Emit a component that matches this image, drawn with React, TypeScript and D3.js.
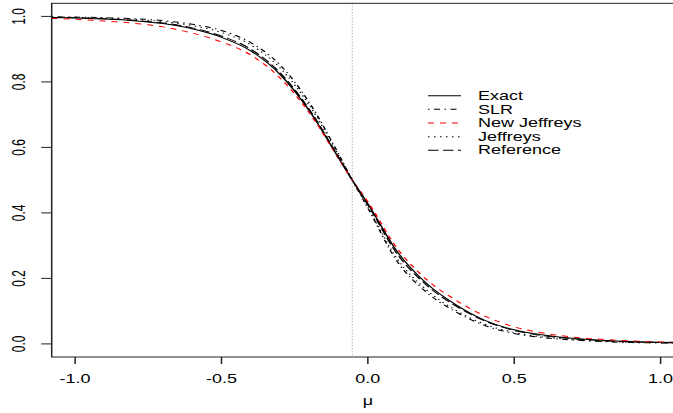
import React from "react";
import * as d3 from "d3";

// values
const mu = [-1.08, -1.0, -0.9, -0.8, -0.7, -0.6, -0.5, -0.4, -0.3, -0.2, -0.1, -0.053, 0, 0.1, 0.2, 0.3, 0.4, 0.5, 0.6, 0.7, 0.8, 0.9, 1.0, 1.08];
const exact = [0.997, 0.995, 0.992, 0.987, 0.978, 0.962, 0.936, 0.895, 0.823, 0.712, 0.568, 0.5, 0.428, 0.282, 0.185, 0.12, 0.072, 0.043, 0.027, 0.017, 0.011, 0.007, 0.005, 0.004];
const slr = [0.999, 0.998, 0.996, 0.993, 0.987, 0.976, 0.957, 0.92, 0.852, 0.737, 0.58, 0.5, 0.415, 0.252, 0.158, 0.098, 0.056, 0.032, 0.019, 0.012, 0.007, 0.004, 0.003, 0.002];
const newJeffreys = [0.994, 0.991, 0.986, 0.979, 0.968, 0.949, 0.922, 0.882, 0.812, 0.706, 0.566, 0.5, 0.434, 0.292, 0.197, 0.134, 0.085, 0.052, 0.033, 0.021, 0.014, 0.009, 0.006, 0.005];
const jeffreys = [0.998, 0.997, 0.995, 0.991, 0.984, 0.972, 0.951, 0.913, 0.843, 0.729, 0.576, 0.5, 0.418, 0.26, 0.165, 0.103, 0.06, 0.035, 0.021, 0.013, 0.008, 0.005, 0.003, 0.002];
const reference = [0.997, 0.996, 0.993, 0.988, 0.98, 0.965, 0.94, 0.9, 0.828, 0.716, 0.57, 0.5, 0.425, 0.275, 0.18, 0.116, 0.07, 0.041, 0.025, 0.016, 0.01, 0.006, 0.004, 0.003];
const vline = -0.053;

const xTicks = [-1.0, -0.5, 0.0, 0.5, 1.0];
const yTicks = [0, 0.2, 0.4, 0.6, 0.8, 1.0];

const series = [
  { name: "Exact", values: exact, color: "#000", dash: null },
  { name: "SLR", values: slr, color: "#000", dash: "1,3,4,3" },
  { name: "New Jeffreys", values: newJeffreys, color: "#ff0000", dash: "4,4" },
  { name: "Jeffreys", values: jeffreys, color: "#000", dash: "1,3" },
  { name: "Reference", values: reference, color: "#000", dash: "7,3" },
];

// the original picture is stretched 1.5x horizontally, so draw in narrow coords
const SX = 1.5;
const left = 51.7 / SX;
const right = 684 / SX;
const top = 3.3;
const bottom = 357;

const fmt = (t: number) => t.toFixed(1); // plain hyphen minus like R

const App = () => {
  const x = d3.scaleLinear().domain([-1.08, 1.08]).range([left, right]);
  const y = d3.scaleLinear().domain([-0.04, 1.04]).range([bottom, top]);

  const line = d3
    .line<number>()
    .x((d, i) => x(mu[i]))
    .y((d) => y(d))
    .curve(d3.curveMonotoneX);

  const font = "'Liberation Sans', Arial, Helvetica, sans-serif";

  return (
    <svg width={673} height={413} style={{ position: "absolute", left: 0, top: 0, background: "#fff" }}>
      <defs>
        <clipPath id="plot">
          <rect x={left} y={top} width={right - left} height={bottom - top} />
        </clipPath>
      </defs>
      <g transform={`scale(${SX},1)`} fontFamily={font}>
        {/* vertical dotted marker */}
        <line x1={x(vline)} x2={x(vline)} y1={top} y2={bottom} stroke="#aaa" strokeWidth={0.8} strokeDasharray="1,2" />

        <g clipPath="url(#plot)">
          {series.map((s) => (
            <path
              key={s.name}
              d={line(s.values) || ""}
              fill="none"
              stroke={s.color}
              strokeWidth={1}
              strokeDasharray={s.dash || undefined}
            />
          ))}
        </g>

        {/* box */}
        <rect x={left} y={top} width={right - left} height={bottom - top} fill="none" stroke="#222" strokeWidth={1} />

        {/* x axis */}
        {xTicks.map((t) => (
          <g key={t}>
            <line x1={x(t)} x2={x(t)} y1={bottom} y2={bottom + 7} stroke="#222" />
            <text x={x(t)} y={383} fontSize={12} textAnchor="middle">
              {fmt(t)}
            </text>
          </g>
        ))}
        <text x={x(0)} y={405} fontSize={12} textAnchor="middle">
          μ
        </text>

        {/* y axis */}
        {yTicks.map((t) => (
          <g key={t}>
            <line x1={left - 7} x2={left} y1={y(t)} y2={y(t)} stroke="#222" />
            <text transform={`translate(${25 / SX},${y(t)}) rotate(-90)`} fontSize={12} textAnchor="middle">
              {fmt(t)}
            </text>
          </g>
        ))}

        {/* legend */}
        {series.map((s, i) => {
          const ly = 95.7 + i * 13.65;
          return (
            <g key={s.name}>
              <line
                x1={428 / SX}
                x2={461 / SX}
                y1={ly}
                y2={ly}
                stroke={s.color}
                strokeWidth={1}
                strokeDasharray={s.dash || undefined}
              />
              <text x={478 / SX} y={ly + 4.2} fontSize={12}>
                {s.name}
              </text>
            </g>
          );
        })}
      </g>
    </svg>
  );
};

export default App;
